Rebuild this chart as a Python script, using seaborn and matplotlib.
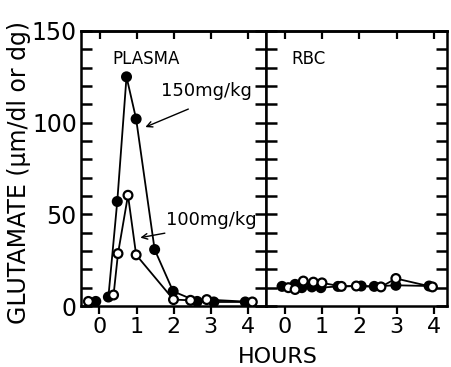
import numpy as np
import pandas as pd
import matplotlib
matplotlib.use("Agg")
import matplotlib.pyplot as plt
import seaborn as sns

# ---- data ----
plasma_hi_t = [-0.1, 0.24, 0.48, 0.73, 0.99, 1.49, 1.99, 2.64, 3.09, 3.94]
plasma_hi_v = [2.5, 4.9, 57, 125, 102, 30.8, 8, 2.5, 2.2, 2.2]
plasma_hi_seg = [0, 1, 1, 1, 1, 1, 1, 1, 1, 1]

plasma_lo_t = [-0.3, 0.38, 0.5, 0.77, 0.99, 2.0, 2.46, 2.9, 4.13]
plasma_lo_v = [2.5, 6, 28.6, 60.4, 27.9, 3.5, 3.1, 3.5, 2.2]
plasma_lo_seg = [0, 1, 1, 1, 1, 1, 1, 1, 1]

rbc_hi_t = [-0.07, 0.28, 0.46, 0.73, 0.97, 1.43, 2.05, 2.4, 2.98, 3.87]
rbc_hi_v = [10.7, 11.8, 10.0, 10.4, 10.0, 10.7, 10.9, 10.7, 11.3, 10.9]

rbc_lo_t = [0.1, 0.28, 0.5, 0.77, 1.0, 1.52, 1.92, 2.58, 2.98, 3.96]
rbc_lo_v = [10.0, 9.0, 13.6, 13.0, 12.6, 10.7, 10.9, 10.4, 15.0, 10.4]

doses = ["150mg/kg", "100mg/kg"]
panels = ["PLASMA", "RBC"]
hour_ticks = [0, 1, 2, 3, 4]
y_major = [0, 50, 100, 150]

rows = []
for t, v, s in zip(plasma_hi_t, plasma_hi_v, plasma_hi_seg):
    rows.append(("PLASMA", doses[0], t, v, f"hi{s}"))
for t, v, s in zip(plasma_lo_t, plasma_lo_v, plasma_lo_seg):
    rows.append(("PLASMA", doses[1], t, v, f"lo{s}"))
for t, v in zip(rbc_hi_t, rbc_hi_v):
    rows.append(("RBC", doses[0], t, v, "hi1"))
for t, v in zip(rbc_lo_t, rbc_lo_v):
    rows.append(("RBC", doses[1], t, v, "lo1"))
df = pd.DataFrame(rows, columns=["panel", "dose", "hours", "glut", "seg"])

sns.set_style("white")
plt.rcParams["font.family"] = ["DejaVu Sans"]
plt.rcParams.update({"text.color": "black", "xtick.color": "black",
                     "ytick.color": "black", "axes.labelcolor": "black",
                     "axes.edgecolor": "black"})

W, H = 452, 367
fig = plt.figure(figsize=(W / 100, H / 100), dpi=100)
ax1 = fig.add_axes([81 / W, 1 - 306 / H, 185 / W, 275 / H])
ax2 = fig.add_axes([266 / W, 1 - 306 / H, 181 / W, 275 / H], sharey=ax1)

fills = {doses[0]: "black", doses[1]: "white"}

for ax, panel, xlim in [(ax1, "PLASMA", (-0.5, 4.5)), (ax2, "RBC", (-0.5, 4.35))]:
    d = df[df.panel == panel]
    sns.lineplot(data=d, x="hours", y="glut", units="seg", estimator=None,
                 sort=False, color="black", lw=1.3, ax=ax, legend=False)
    sns.scatterplot(data=d, x="hours", y="glut", hue="dose", palette=fills,
                    edgecolor="black", linewidth=1.6, s=40, ax=ax,
                    legend=False, zorder=5)
    ax.set_xlim(*xlim)
    ax.set_ylim(0, 150)
    ax.set_xlabel("")
    ax.set_ylabel("")
    ax.set_xticks(hour_ticks)
    ax.set_xticklabels([str(h) for h in hour_ticks], fontsize=16)
    ax.set_yticks(y_major)
    ax.set_yticks(np.arange(0, 151, 10), minor=True)
    for sp in ax.spines.values():
        sp.set_visible(True)
        sp.set_linewidth(1.8)
        sp.set_color("black")
    ax.tick_params(axis="y", which="both", direction="in", left=True, right=True,
                   length=8, width=1.8, color="black")
    ax.tick_params(axis="x", which="major", direction="out", bottom=True,
                   length=6, width=1.6, pad=2, color="black")
    top = ax.secondary_xaxis("top")
    top.set_xticks(hour_ticks)
    top.tick_params(direction="in", length=6, width=1.6, labeltop=False)
    top.spines["top"].set_linewidth(1.8)
    ax.text(0.17 if panel == "PLASMA" else 0.14, 0.93, panel, transform=ax.transAxes,
            fontsize=12, ha="left", va="top")

ax1.set_yticklabels([str(v) for v in y_major], fontsize=17)
ax1.tick_params(axis="y", which="major", pad=3)
ax2.tick_params(axis="y", labelleft=False)

ax1.annotate("150mg/kg", xy=(1.17, 97), xytext=(1.65, 117), fontsize=13,
             ha="left", va="center")
ax1.annotate("", xy=(1.17, 97), xytext=(2.47, 108),
             arrowprops=dict(arrowstyle="->", color="black", lw=1.0))
ax1.annotate("100mg/kg", xy=(1.03, 37), xytext=(1.79, 47), fontsize=13,
             ha="left", va="center")
ax1.annotate("", xy=(1.03, 37), xytext=(1.84, 40),
             arrowprops=dict(arrowstyle="->", color="black", lw=1.0))

fig.text(19 / W, 1 - 172 / H, "GLUTAMATE (μm/dl or dg)", rotation=90,
         fontsize=17, ha="center", va="center")
fig.text(278 / W, 1 - 357 / H, "HOURS", fontsize=16, ha="center", va="center")

fig.savefig("out.png", dpi=100)
